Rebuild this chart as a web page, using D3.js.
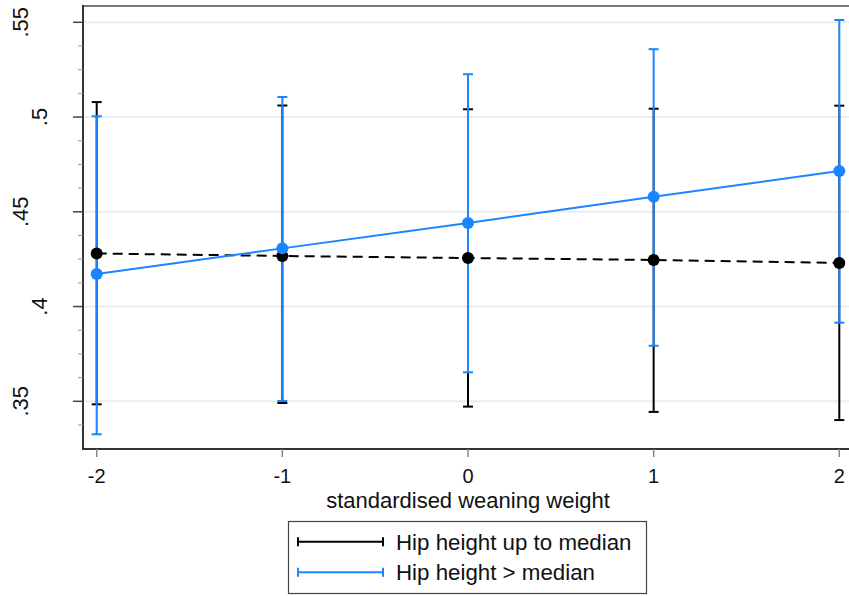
<!DOCTYPE html>
<html>
<head>
<meta charset="utf-8">
<script src="https://cdn.jsdelivr.net/npm/d3@7"></script>
<style>
  html, body { margin: 0; padding: 0; background: #fff; }
  svg { display: block; font-family: "Liberation Sans", Arial, sans-serif; }
</style>
</head>
<body>
<svg id="chart" width="849" height="596"></svg>
<script>
// Predicted values by standardised weaning weight, two hip-height groups
const xValues = [-2, -1, 0, 1, 2];

const lowEstimate = [0.4280, 0.4267, 0.4256, 0.4246, 0.4230];
const lowLower    = [0.3484, 0.3491, 0.3472, 0.3444, 0.3401];
const lowUpper    = [0.5079, 0.5061, 0.5041, 0.5044, 0.5060];

const highEstimate = [0.4172, 0.4307, 0.4441, 0.4580, 0.4715];
const highLower    = [0.3326, 0.3502, 0.3653, 0.3793, 0.3915];
const highUpper    = [0.5004, 0.5106, 0.5226, 0.5358, 0.5512];

const seriesNames = ["Hip height up to median", "Hip height > median"];

const yTicks = [0.35, 0.40, 0.45, 0.50, 0.55];
const yTickLabels = [".35", ".4", ".45", ".5", ".55"];
const yMinorTicks = [0.3375, 0.3625, 0.375, 0.3875, 0.4125, 0.425, 0.4375,
                     0.4625, 0.475, 0.4875, 0.5125, 0.525, 0.5375];
const xTicks = [-2, -1, 0, 1, 2];
const xTitle = "standardised weaning weight";

const BLUE = "#1a85ff";
const BLACK = "#000000";

const svg = d3.select("#chart");

const plotLeft = 83, plotRight = 849, plotTop = 6, plotBottom = 449;

const x = d3.scaleLinear().domain([-2, 2]).range([96.7, 839.3]);
const y = d3.scaleLinear().domain([0.35, 0.55]).range([401.3, 22.3]);

// gridlines at major y ticks
svg.append("g").selectAll("line").data(yTicks).join("line")
  .attr("x1", plotLeft).attr("x2", plotRight)
  .attr("y1", d => y(d)).attr("y2", d => y(d))
  .attr("stroke", "#ececec").attr("stroke-width", 2);

// top frame line
svg.append("line")
  .attr("x1", plotLeft).attr("x2", plotRight)
  .attr("y1", plotTop).attr("y2", plotTop)
  .attr("stroke", "#7a7a7a").attr("stroke-width", 2);

// y axis
const yAxis = svg.append("g").attr("transform", `translate(${plotLeft},0)`);
yAxis.append("line").attr("x1", 0).attr("x2", 0)
  .attr("y1", plotTop - 1).attr("y2", plotBottom + 1)
  .attr("stroke", "#333").attr("stroke-width", 2);
yAxis.selectAll("line.major").data(yTicks).join("line").attr("class", "major")
  .attr("x1", -10).attr("x2", 0)
  .attr("y1", d => y(d)).attr("y2", d => y(d))
  .attr("stroke", "#444").attr("stroke-width", 1.5);
yAxis.selectAll("line.minor").data(yMinorTicks).join("line").attr("class", "minor")
  .attr("x1", -5).attr("x2", 0)
  .attr("y1", d => y(d)).attr("y2", d => y(d))
  .attr("stroke", "#999").attr("stroke-width", 1);
svg.append("g").selectAll("text").data(yTicks).join("text")
  .attr("transform", (d, i) => {
    const bx = 47 - (yTickLabels[i].length - 2) * 19;
    return `translate(${bx},${y(d)}) rotate(-90)`;
  })
  .attr("text-anchor", "middle")
  .attr("font-size", 22)
  .attr("fill", "#111")
  .text((d, i) => yTickLabels[i]);

// x axis
const xAxis = svg.append("g").attr("transform", `translate(0,${plotBottom})`);
xAxis.append("line").attr("x1", plotLeft - 1).attr("x2", plotRight)
  .attr("y1", 0).attr("y2", 0)
  .attr("stroke", "#333").attr("stroke-width", 2);
xAxis.selectAll("line.tick").data(xTicks).join("line").attr("class", "tick")
  .attr("x1", d => x(d)).attr("x2", d => x(d))
  .attr("y1", 0).attr("y2", 8)
  .attr("stroke", "#888").attr("stroke-width", 1.5);
xAxis.selectAll("text").data(xTicks).join("text")
  .attr("x", d => x(d)).attr("y", 34)
  .attr("text-anchor", "middle")
  .attr("font-size", 20)
  .attr("fill", "#111")
  .text(d => d);

svg.append("text")
  .attr("x", (plotLeft + plotRight) / 2 + 2).attr("y", 508)
  .attr("text-anchor", "middle")
  .attr("font-size", 22)
  .attr("fill", "#111")
  .text(xTitle);

// error bars with caps
function drawCI(lower, upper, color) {
  const g = svg.append("g").attr("stroke", color).attr("stroke-width", 2);
  const rows = xValues.map((v, i) => ({ v, lo: lower[i], hi: upper[i] }));
  g.selectAll("line.stem").data(rows).join("line").attr("class", "stem")
    .attr("x1", d => x(d.v)).attr("x2", d => x(d.v))
    .attr("y1", d => y(d.lo)).attr("y2", d => y(d.hi));
  g.selectAll("line.capLo").data(rows).join("line").attr("class", "capLo")
    .attr("x1", d => x(d.v) - 5).attr("x2", d => x(d.v) + 5)
    .attr("y1", d => y(d.lo)).attr("y2", d => y(d.lo));
  g.selectAll("line.capHi").data(rows).join("line").attr("class", "capHi")
    .attr("x1", d => x(d.v) - 5).attr("x2", d => x(d.v) + 5)
    .attr("y1", d => y(d.hi)).attr("y2", d => y(d.hi));
}

function drawLine(est, color, dash) {
  const pts = xValues.map((v, i) => [v, est[i]]);
  svg.append("path")
    .datum(pts)
    .attr("fill", "none")
    .attr("stroke", color)
    .attr("stroke-width", 2)
    .attr("stroke-dasharray", dash || null)
    .attr("d", d3.line().x(d => x(d[0])).y(d => y(d[1])));
  svg.append("g").selectAll("circle").data(pts).join("circle")
    .attr("cx", d => x(d[0])).attr("cy", d => y(d[1]))
    .attr("r", 6).attr("fill", color);
}

drawCI(lowLower, lowUpper, BLACK);
drawCI(highLower, highUpper, BLUE);
drawLine(lowEstimate, BLACK, "10,6");
drawLine(highEstimate, BLUE, null);

// legend
const legend = svg.append("g");
legend.append("rect")
  .attr("x", 288.5).attr("y", 521.5).attr("width", 358).attr("height", 72)
  .attr("fill", "#fff").attr("stroke", "#444").attr("stroke-width", 1.2);
const legendRows = [
  { name: seriesNames[0], color: BLACK, cy: 541.7 },
  { name: seriesNames[1], color: BLUE, cy: 572.3 }
];
legendRows.forEach(r => {
  const g = legend.append("g").attr("stroke", r.color).attr("stroke-width", 2);
  g.append("line").attr("x1", 298).attr("x2", 383).attr("y1", r.cy).attr("y2", r.cy);
  g.append("line").attr("x1", 298).attr("x2", 298).attr("y1", r.cy - 4.5).attr("y2", r.cy + 4.5);
  g.append("line").attr("x1", 383).attr("x2", 383).attr("y1", r.cy - 4.5).attr("y2", r.cy + 4.5);
  legend.append("text")
    .attr("x", 396).attr("y", r.cy + 8)
    .attr("font-size", 22.3)
    .attr("fill", "#111")
    .text(r.name);
});
</script>
</body>
</html>
